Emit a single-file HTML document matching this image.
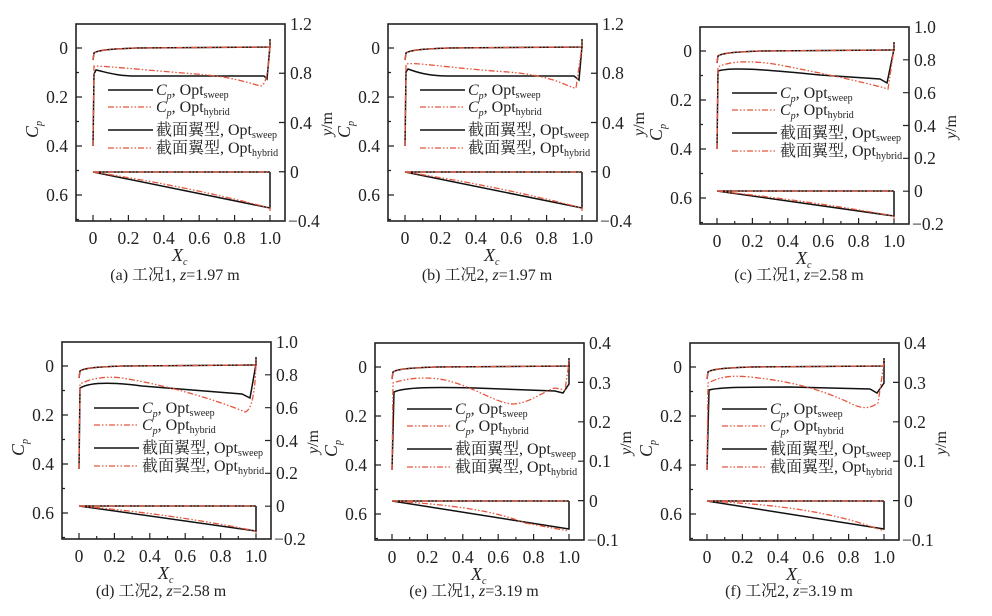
<!DOCTYPE html>
<html><head><meta charset="utf-8"><style>
body{margin:0;background:#fff}
svg{display:block}
text{font-family:"Liberation Serif","Noto Serif CJK SC",serif;fill:#222}
.t{font-size:17.5px}
.lg{font-size:16px}
.cap{font-size:16px}
.r{stroke:#e8553c;fill:none;stroke-width:1.3;stroke-dasharray:6,2,1.5,2,1.5,2}
.k{stroke:#111;fill:none;stroke-width:1.5}
</style></head><body>
<svg width="992" height="616" viewBox="0 0 992 616" xmlns="http://www.w3.org/2000/svg">
<defs>
<g id="frame">
<rect x="0" y="0" width="209" height="197" fill="none" stroke="#222" stroke-width="1.6"/>
<path stroke="#222" stroke-width="1.2" d="M17,197v-6M34.7,197v-3M52.4,197v-6M70.1,197v-3M87.8,197v-6M105.5,197v-3M123.2,197v-6M140.9,197v-3M158.6,197v-6M176.3,197v-3M194,197v-6
M0,24h6M0,48.5h3M0,73h6M0,97.5h3M0,122h6M0,146.5h3M0,171h6M0,195.5h3"/>
<path class="k" d="M17,36 L18,29 C22,26 35,25 60,24 L194,23 L194,15"/>
<path class="r" d="M17,36 L18,29 C22,26 35,25 60,24 L194,23 L194,15"/>
<line x1="32" x2="77" y1="66" y2="66" class="k"/>
<line x1="32" x2="77" y1="83" y2="83" class="r"/>
<line x1="32" x2="77" y1="106" y2="106" class="k"/>
<line x1="32" x2="77" y1="124" y2="124" class="r"/>
</g>
</defs>

<!-- (a) -->
<g transform="translate(76,24)">
<use href="#frame"/>
<path stroke="#222" stroke-width="1.2" d="M209,49.25h-6M209,98.5h-6M209,147.75h-6"/>
<path class="k" d="M17,122 L18,50 L20,46 C30,48 40,52 60,52 L188,52 L191,55 L194,22"/>
<path class="r" d="M17,122 L18,42 C30,42 80,47 120,50 C160,53 175,60 185,62 C190,60 192,50 194,22"/>
<path class="k" d="M17,148 L194,148 M17,148 L194,184 L194,148"/>
<path class="r" d="M17,148 L194,148 M17,148 Q110,162 194,184 L194,187"/>
<g class="t"><text x="-8" y="30" text-anchor="end">0</text><text x="-8" y="79" text-anchor="end">0.2</text><text x="-8" y="128" text-anchor="end">0.4</text><text x="-8" y="177" text-anchor="end">0.6</text>
<text x="214" y="6">1.2</text><text x="214" y="55">0.8</text><text x="214" y="105">0.4</text><text x="214" y="154">0</text><text x="212" y="203">−0.4</text>
<g text-anchor="middle"><text x="17" y="220">0</text><text x="52.4" y="220">0.2</text><text x="87.8" y="220">0.4</text><text x="123.2" y="220">0.6</text><text x="158.6" y="220">0.8</text><text x="194" y="220">1.0</text></g></g>
<text x="96" y="237" font-size="18" font-style="italic">X<tspan font-size="10" dy="4">c</tspan></text>
<text transform="translate(-38,114) rotate(-90)" font-size="18" font-style="italic">C<tspan font-size="10" dy="4">p</tspan></text>
<text transform="translate(256,112) rotate(-90)" font-size="16"><tspan font-style="italic">y</tspan>/m</text>
<g class="lg"><text x="80" y="71"><tspan font-style="italic">C</tspan><tspan font-size="10" dy="4" font-style="italic">p</tspan><tspan dy="-4">, Opt</tspan><tspan font-size="10" dy="3">sweep</tspan></text>
<text x="80" y="88"><tspan font-style="italic">C</tspan><tspan font-size="10" dy="4" font-style="italic">p</tspan><tspan dy="-4">, Opt</tspan><tspan font-size="10" dy="3">hybrid</tspan></text>
<text x="80" y="111">截面翼型, Opt<tspan font-size="10" dy="3">sweep</tspan></text>
<text x="80" y="129">截面翼型, Opt<tspan font-size="10" dy="3">hybrid</tspan></text></g>
<text class="cap" x="99" y="256" text-anchor="middle">(a) 工况1, <tspan font-style="italic">z</tspan>=1.97 m</text>
</g>

<!-- (b) -->
<g transform="translate(388,24)">
<use href="#frame"/>
<path stroke="#222" stroke-width="1.2" d="M209,49.25h-6M209,98.5h-6M209,147.75h-6"/>
<path class="k" d="M17,122 L18,48 L20,45 C28,48 40,52 60,52 L186,52 L191,56 L194,22"/>
<path class="r" d="M17,122 L18,40 C28,38 60,44 120,48 C170,52 180,64 188,64 L194,22"/>
<path class="k" d="M17,148 L194,148 M17,148 L194,184 L194,148"/>
<path class="r" d="M17,148 L194,148 M17,148 Q110,162 194,184 L194,187"/>
<g class="t"><text x="-8" y="30" text-anchor="end">0</text><text x="-8" y="79" text-anchor="end">0.2</text><text x="-8" y="128" text-anchor="end">0.4</text><text x="-8" y="177" text-anchor="end">0.6</text>
<text x="214" y="6">1.2</text><text x="214" y="55">0.8</text><text x="214" y="105">0.4</text><text x="214" y="154">0</text><text x="212" y="203">−0.4</text>
<g text-anchor="middle"><text x="17" y="220">0</text><text x="52.4" y="220">0.2</text><text x="87.8" y="220">0.4</text><text x="123.2" y="220">0.6</text><text x="158.6" y="220">0.8</text><text x="194" y="220">1.0</text></g></g>
<text x="96" y="237" font-size="18" font-style="italic">X<tspan font-size="10" dy="4">c</tspan></text>
<text transform="translate(-38,114) rotate(-90)" font-size="18" font-style="italic">C<tspan font-size="10" dy="4">p</tspan></text>
<text transform="translate(256,112) rotate(-90)" font-size="16"><tspan font-style="italic">y</tspan>/m</text>
<g class="lg"><text x="80" y="71"><tspan font-style="italic">C</tspan><tspan font-size="10" dy="4" font-style="italic">p</tspan><tspan dy="-4">, Opt</tspan><tspan font-size="10" dy="3">sweep</tspan></text>
<text x="80" y="88"><tspan font-style="italic">C</tspan><tspan font-size="10" dy="4" font-style="italic">p</tspan><tspan dy="-4">, Opt</tspan><tspan font-size="10" dy="3">hybrid</tspan></text>
<text x="80" y="111">截面翼型, Opt<tspan font-size="10" dy="3">sweep</tspan></text>
<text x="80" y="129">截面翼型, Opt<tspan font-size="10" dy="3">hybrid</tspan></text></g>
<text class="cap" x="99" y="256" text-anchor="middle">(b) 工况2, <tspan font-style="italic">z</tspan>=1.97 m</text>
</g>

<!-- (c) -->
<g transform="translate(700,27)">
<use href="#frame"/>
<path stroke="#222" stroke-width="1.2" d="M209,32.8h-6M209,65.7h-6M209,98.5h-6M209,131.3h-6M209,164.2h-6"/>
<path class="k" d="M17,122 L18,44 C30,40 60,42 120,48 L180,52 L187,56 L194,22"/>
<path class="r" d="M17,122 L18,40 C30,34 50,33 80,38 C120,46 160,54 188,62 L194,22"/>
<path class="k" d="M17,164 L194,164 M17,164 L194,189 L194,164"/>
<path class="r" d="M17,164 L194,164 M17,164 Q110,174 194,189 L194,192"/>
<g class="t"><text x="-8" y="30" text-anchor="end">0</text><text x="-8" y="79" text-anchor="end">0.2</text><text x="-8" y="128" text-anchor="end">0.4</text><text x="-8" y="177" text-anchor="end">0.6</text>
<text x="214" y="6">1.0</text><text x="214" y="39">0.8</text><text x="214" y="72">0.6</text><text x="214" y="105">0.4</text><text x="214" y="137">0.2</text><text x="214" y="170">0</text><text x="212" y="203">−0.2</text>
<g text-anchor="middle"><text x="17" y="220">0</text><text x="52.4" y="220">0.2</text><text x="87.8" y="220">0.4</text><text x="123.2" y="220">0.6</text><text x="158.6" y="220">0.8</text><text x="194" y="220">1.0</text></g></g>
<text x="96" y="237" font-size="18" font-style="italic">X<tspan font-size="10" dy="4">c</tspan></text>
<text transform="translate(-38,114) rotate(-90)" font-size="18" font-style="italic">C<tspan font-size="10" dy="4">p</tspan></text>
<text transform="translate(256,112) rotate(-90)" font-size="16"><tspan font-style="italic">y</tspan>/m</text>
<g class="lg"><text x="80" y="71"><tspan font-style="italic">C</tspan><tspan font-size="10" dy="4" font-style="italic">p</tspan><tspan dy="-4">, Opt</tspan><tspan font-size="10" dy="3">sweep</tspan></text>
<text x="80" y="88"><tspan font-style="italic">C</tspan><tspan font-size="10" dy="4" font-style="italic">p</tspan><tspan dy="-4">, Opt</tspan><tspan font-size="10" dy="3">hybrid</tspan></text>
<text x="80" y="111">截面翼型, Opt<tspan font-size="10" dy="3">sweep</tspan></text>
<text x="80" y="129">截面翼型, Opt<tspan font-size="10" dy="3">hybrid</tspan></text></g>
<text class="cap" x="99" y="253" text-anchor="middle">(c) 工况1, <tspan font-style="italic">z</tspan>=2.58 m</text>
</g>

<!-- (d) -->
<g transform="translate(62,342)">
<use href="#frame"/>
<path stroke="#222" stroke-width="1.2" d="M209,32.8h-6M209,65.7h-6M209,98.5h-6M209,131.3h-6M209,164.2h-6"/>
<path class="k" d="M17,127 L18,46 C28,40 50,40 80,44 L180,52 L188,56 L194,22"/>
<path class="r" d="M17,127 L18,42 C30,36 45,34 60,36 C110,44 160,60 183,70 C190,68 193,50 194,22"/>
<path class="k" d="M17,164 L194,164 M17,164 L194,189 L194,164"/>
<path class="r" d="M17,164 L194,164 M17,164 Q110,172 194,189 L194,192"/>
<g class="t"><text x="-8" y="30" text-anchor="end">0</text><text x="-8" y="79" text-anchor="end">0.2</text><text x="-8" y="128" text-anchor="end">0.4</text><text x="-8" y="177" text-anchor="end">0.6</text>
<text x="214" y="6">1.0</text><text x="214" y="39">0.8</text><text x="214" y="72">0.6</text><text x="214" y="105">0.4</text><text x="214" y="137">0.2</text><text x="214" y="170">0</text><text x="212" y="203">−0.2</text>
<g text-anchor="middle"><text x="17" y="220">0</text><text x="52.4" y="220">0.2</text><text x="87.8" y="220">0.4</text><text x="123.2" y="220">0.6</text><text x="158.6" y="220">0.8</text><text x="194" y="220">1.0</text></g></g>
<text x="96" y="237" font-size="18" font-style="italic">X<tspan font-size="10" dy="4">c</tspan></text>
<text transform="translate(-38,114) rotate(-90)" font-size="18" font-style="italic">C<tspan font-size="10" dy="4">p</tspan></text>
<text transform="translate(256,112) rotate(-90)" font-size="16"><tspan font-style="italic">y</tspan>/m</text>
<g class="lg"><text x="80" y="71"><tspan font-style="italic">C</tspan><tspan font-size="10" dy="4" font-style="italic">p</tspan><tspan dy="-4">, Opt</tspan><tspan font-size="10" dy="3">sweep</tspan></text>
<text x="80" y="88"><tspan font-style="italic">C</tspan><tspan font-size="10" dy="4" font-style="italic">p</tspan><tspan dy="-4">, Opt</tspan><tspan font-size="10" dy="3">hybrid</tspan></text>
<text x="80" y="111">截面翼型, Opt<tspan font-size="10" dy="3">sweep</tspan></text>
<text x="80" y="129">截面翼型, Opt<tspan font-size="10" dy="3">hybrid</tspan></text></g>
<text class="cap" x="99" y="254" text-anchor="middle">(d) 工况2, <tspan font-style="italic">z</tspan>=2.58 m</text>
</g>

<!-- (e) -->
<g transform="translate(375,343)">
<use href="#frame"/>
<path stroke="#222" stroke-width="1.2" d="M209,39.4h-6M209,78.8h-6M209,118.2h-6M209,157.6h-6"/>
<path class="k" d="M17,127 L19,49 C30,44 60,44 100,45 L180,48 L188,50 L194,41 L194,20"/>
<path class="r" d="M17,127 L18,40 C35,34 55,34 70,37 C100,44 120,60 138,61 C155,60 165,50 180,45 L190,47 L194,20"/>
<path class="k" d="M17,158 L194,158 M17,158 L194,186 L194,158"/>
<path class="r" d="M17,158 L194,158 M17,158 C80,162 120,168 150,180 L194,188"/>
<g class="t"><text x="-8" y="30" text-anchor="end">0</text><text x="-8" y="79" text-anchor="end">0.2</text><text x="-8" y="128" text-anchor="end">0.4</text><text x="-8" y="177" text-anchor="end">0.6</text>
<text x="214" y="6">0.4</text><text x="214" y="46">0.3</text><text x="214" y="85">0.2</text><text x="214" y="124">0.1</text><text x="214" y="164">0</text><text x="212" y="203">−0.1</text>
<g text-anchor="middle"><text x="17" y="220">0</text><text x="52.4" y="220">0.2</text><text x="87.8" y="220">0.4</text><text x="123.2" y="220">0.6</text><text x="158.6" y="220">0.8</text><text x="194" y="220">1.0</text></g></g>
<text x="96" y="237" font-size="18" font-style="italic">X<tspan font-size="10" dy="4">c</tspan></text>
<text transform="translate(-38,114) rotate(-90)" font-size="18" font-style="italic">C<tspan font-size="10" dy="4">p</tspan></text>
<text transform="translate(256,112) rotate(-90)" font-size="16"><tspan font-style="italic">y</tspan>/m</text>
<g class="lg"><text x="80" y="71"><tspan font-style="italic">C</tspan><tspan font-size="10" dy="4" font-style="italic">p</tspan><tspan dy="-4">, Opt</tspan><tspan font-size="10" dy="3">sweep</tspan></text>
<text x="80" y="88"><tspan font-style="italic">C</tspan><tspan font-size="10" dy="4" font-style="italic">p</tspan><tspan dy="-4">, Opt</tspan><tspan font-size="10" dy="3">hybrid</tspan></text>
<text x="80" y="111">截面翼型, Opt<tspan font-size="10" dy="3">sweep</tspan></text>
<text x="80" y="129">截面翼型, Opt<tspan font-size="10" dy="3">hybrid</tspan></text></g>
<text class="cap" x="99" y="253" text-anchor="middle">(e) 工况1, <tspan font-style="italic">z</tspan>=3.19 m</text>
</g>

<!-- (f) -->
<g transform="translate(690,343)">
<use href="#frame"/>
<path stroke="#222" stroke-width="1.2" d="M209,39.4h-6M209,78.8h-6M209,118.2h-6M209,157.6h-6"/>
<path class="k" d="M17,127 L19,47 C30,44 60,44 100,44 L180,46 L187,50 L194,40 L194,18"/>
<path class="r" d="M17,127 L18,40 C30,34 40,32 60,34 C100,38 130,46 160,60 C175,68 182,64 188,60 L194,20"/>
<path class="k" d="M17,158 L194,158 M17,158 L194,186 L194,158"/>
<path class="r" d="M17,158 L194,158 M17,158 C90,162 140,168 194,188"/>
<g class="t"><text x="-8" y="30" text-anchor="end">0</text><text x="-8" y="79" text-anchor="end">0.2</text><text x="-8" y="128" text-anchor="end">0.4</text><text x="-8" y="177" text-anchor="end">0.6</text>
<text x="214" y="6">0.4</text><text x="214" y="46">0.3</text><text x="214" y="85">0.2</text><text x="214" y="124">0.1</text><text x="214" y="164">0</text><text x="212" y="203">−0.1</text>
<g text-anchor="middle"><text x="17" y="220">0</text><text x="52.4" y="220">0.2</text><text x="87.8" y="220">0.4</text><text x="123.2" y="220">0.6</text><text x="158.6" y="220">0.8</text><text x="194" y="220">1.0</text></g></g>
<text x="96" y="237" font-size="18" font-style="italic">X<tspan font-size="10" dy="4">c</tspan></text>
<text transform="translate(-38,114) rotate(-90)" font-size="18" font-style="italic">C<tspan font-size="10" dy="4">p</tspan></text>
<text transform="translate(256,112) rotate(-90)" font-size="16"><tspan font-style="italic">y</tspan>/m</text>
<g class="lg"><text x="80" y="71"><tspan font-style="italic">C</tspan><tspan font-size="10" dy="4" font-style="italic">p</tspan><tspan dy="-4">, Opt</tspan><tspan font-size="10" dy="3">sweep</tspan></text>
<text x="80" y="88"><tspan font-style="italic">C</tspan><tspan font-size="10" dy="4" font-style="italic">p</tspan><tspan dy="-4">, Opt</tspan><tspan font-size="10" dy="3">hybrid</tspan></text>
<text x="80" y="111">截面翼型, Opt<tspan font-size="10" dy="3">sweep</tspan></text>
<text x="80" y="129">截面翼型, Opt<tspan font-size="10" dy="3">hybrid</tspan></text></g>
<text class="cap" x="99" y="253" text-anchor="middle">(f) 工况2, <tspan font-style="italic">z</tspan>=3.19 m</text>
</g>
</svg>
</body></html>
